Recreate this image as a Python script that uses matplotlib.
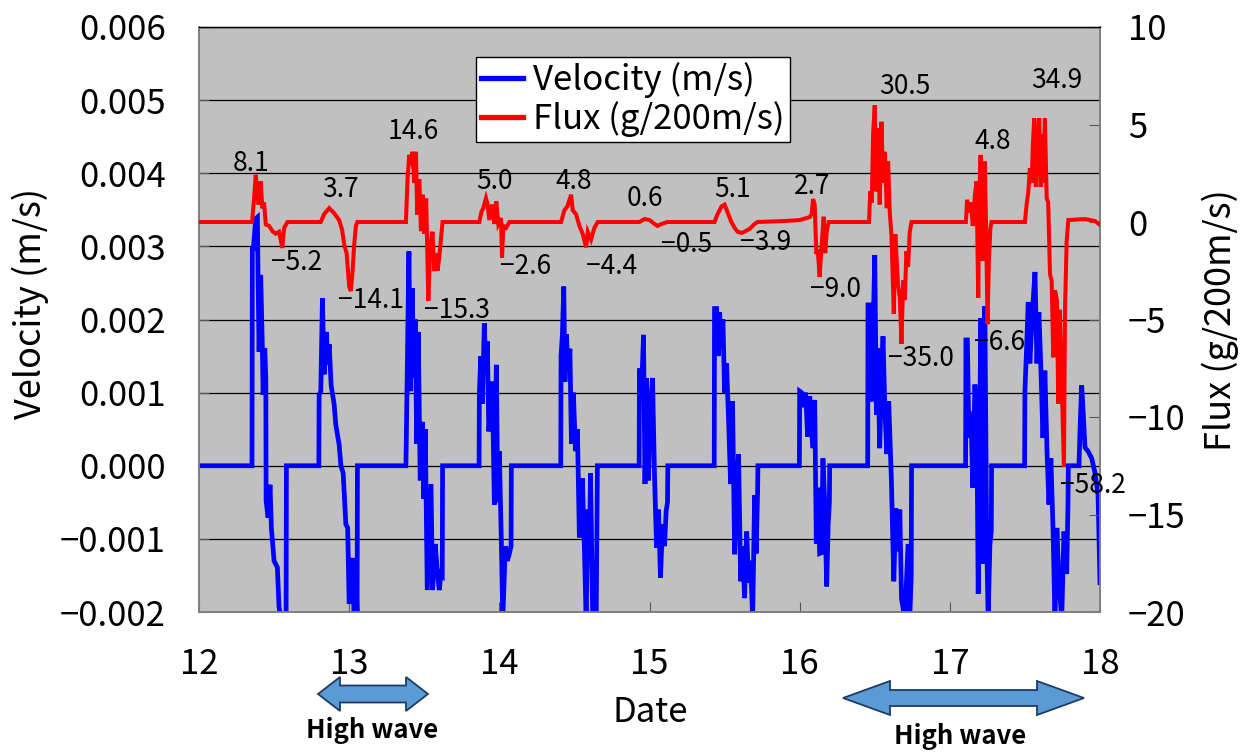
import numpy as np
import matplotlib
matplotlib.use('Agg')
import matplotlib.pyplot as plt
from matplotlib.patches import Polygon
from matplotlib.lines import Line2D

plt.rcParams['font.family'] = ['Noto Sans CJK JP', 'DejaVu Sans']
plt.rcParams['axes.unicode_minus'] = True

# ---------------- data ----------------
# velocity samples: (day, velocity in mm/s); values below -2 mm/s are clipped by the axis
velocity_samples = [
    (12.000, 0.0),
    (12.353, 0.0), (12.355, 2.97), (12.362, 2.97), (12.378, 3.38), (12.389, 3.40), (12.393, 2.61),
    (12.400, 1.56), (12.411, 2.61), (12.422, 1.61), (12.427, 0.97), (12.438, 1.61), (12.445, 1.20),
    (12.447, -0.48), (12.460, -0.71), (12.473, -0.26), (12.482, -0.85), (12.500, -1.30), (12.522, -1.39),
    (12.533, -1.94), (12.549, -2.10), (12.567, -2.10), (12.580, -2.10), (12.582, 0.0),
    (12.798, 0.0), (12.800, 0.97), (12.811, 1.02), (12.822, 2.29), (12.833, 1.25), (12.849, 1.83),
    (12.855, 1.38), (12.867, 1.66), (12.880, 1.10), (12.900, 0.84), (12.911, 0.56), (12.933, 0.29),
    (12.945, 0.00), (12.960, -0.10), (12.978, -0.80), (12.990, -0.85), (13.000, -1.89), (13.022, -1.26),
    (13.033, -2.10), (13.047, -1.60), (13.053, -2.10), (13.055, 0.0),
    (13.378, 0.0), (13.398, 2.93), (13.407, 1.02), (13.420, 2.43), (13.430, 1.20), (13.440, 2.00),
    (13.450, 0.30), (13.460, 1.83), (13.473, -0.20), (13.487, 0.60), (13.497, -0.45), (13.507, 0.50),
    (13.520, -1.70), (13.545, -0.25), (13.555, -1.70), (13.573, -1.07), (13.589, -1.50), (13.600, -1.70),
    (13.611, -1.48), (13.620, -1.50), (13.622, 0.0),
    (13.865, 0.0), (13.867, 1.00), (13.877, 1.50), (13.887, 0.85), (13.900, 1.95), (13.910, 1.30),
    (13.920, 1.70), (13.930, 0.47), (13.953, 1.15), (13.967, -0.53), (13.980, 1.38), (13.990, -0.50),
    (14.000, 0.20), (14.013, -1.00), (14.023, -2.10), (14.040, -1.10), (14.053, -1.30), (14.067, -1.20),
    (14.078, -1.10), (14.080, 0.0),
    (14.409, 0.0), (14.411, 1.50), (14.420, 1.80), (14.429, 2.45), (14.437, 1.15), (14.447, 1.80),
    (14.457, 1.30), (14.470, 1.60), (14.480, 0.30), (14.493, 1.00), (14.507, 0.20), (14.520, 0.50),
    (14.533, -0.98), (14.553, -0.17), (14.567, -1.17), (14.578, -2.10), (14.590, -0.60), (14.600, -1.20),
    (14.607, -0.10), (14.622, -2.10), (14.645, -2.10), (14.653, 0.0),
    (14.931, 0.0), (14.933, 1.33), (14.947, 1.00), (14.960, 1.79), (14.970, -0.25), (14.980, 1.20),
    (14.993, -0.20), (15.007, 0.80), (15.020, 1.20), (15.033, -0.10), (15.047, -1.12), (15.060, -0.60),
    (15.073, -1.53), (15.087, -0.80), (15.100, -1.10), (15.111, -0.62), (15.120, -0.50), (15.122, 0.0),
    (15.431, 0.0), (15.433, 2.15), (15.447, 2.15), (15.457, 1.50), (15.467, 2.10), (15.478, 1.60),
    (15.489, 2.00), (15.500, 1.00), (15.513, 1.40), (15.527, 0.60), (15.540, -0.25), (15.553, 0.88),
    (15.567, -1.21), (15.580, -0.30), (15.593, 0.16), (15.607, -1.58), (15.620, -1.10), (15.633, -1.81),
    (15.647, -0.90), (15.660, -1.60), (15.673, -1.30), (15.687, -2.10), (15.700, -0.40), (15.710, -1.20),
    (15.720, -0.35), (15.722, 0.0),
    (15.998, 0.0), (16.000, 1.02), (16.013, 1.00), (16.027, 0.80), (16.040, 1.00), (16.053, 0.40),
    (16.067, 0.95), (16.087, 0.24), (16.100, 0.90), (16.111, -1.07), (16.123, -0.30), (16.133, -1.20),
    (16.145, -1.19), (16.155, 0.10), (16.167, -0.50), (16.180, -1.65), (16.190, -0.80), (16.198, -0.50),
    (16.200, 0.0),
    (16.453, 0.0), (16.455, 2.20), (16.467, 2.20), (16.477, 0.88), (16.487, 1.60), (16.500, 2.88),
    (16.511, 0.70), (16.520, 1.61), (16.533, 0.24), (16.545, 1.20), (16.555, 1.77), (16.567, 0.80),
    (16.580, 0.16), (16.593, 0.88), (16.611, -0.21), (16.627, -1.58), (16.640, -0.58), (16.655, -1.17),
    (16.667, -0.60), (16.678, -1.81), (16.700, -2.10), (16.722, -1.07), (16.733, -2.10), (16.743, -1.50),
    (16.745, 0.0),
    (17.105, 0.0), (17.107, 1.72), (17.117, 1.72), (17.127, 0.38), (17.140, 0.74), (17.153, -0.30),
    (17.167, 1.11), (17.180, 0.50), (17.189, -1.75), (17.200, 0.80), (17.207, 2.02), (17.218, -1.34),
    (17.227, 0.50), (17.233, 2.18), (17.245, -0.90), (17.255, -2.10), (17.267, -1.07), (17.276, -0.90),
    (17.278, 0.0),
    (17.498, 0.0), (17.500, 1.02), (17.511, 1.60), (17.522, 2.24), (17.533, 1.40), (17.547, 2.00),
    (17.567, 2.65), (17.580, 1.40), (17.593, 2.10), (17.607, 1.29), (17.620, 0.38), (17.633, 1.30),
    (17.647, 0.20), (17.660, -0.53), (17.673, 0.10), (17.687, -0.85), (17.700, -2.10), (17.713, -0.85),
    (17.727, -1.60), (17.745, -2.10), (17.760, -0.90), (17.778, -1.48), (17.787, -0.50), (17.789, 0.0),
    (17.860, 0.0), (17.867, 0.50), (17.878, 1.10), (17.889, 0.70), (17.900, 0.25), (17.920, 0.20),
    (17.945, 0.10), (17.967, -0.10), (17.987, -0.40), (18.000, -1.60),
]

# flux samples: (day, flux on right axis scale)
flux_samples = [
    (12.000, 0.0),
    (12.353, 0.0), (12.367, 1.2), (12.378, 2.42), (12.387, 1.6), (12.397, 0.89), (12.411, 2.08),
    (12.422, 0.7), (12.433, 1.0), (12.445, -0.13), (12.467, -0.2), (12.489, -0.47), (12.511, -0.6),
    (12.533, -0.5), (12.555, -1.33), (12.567, -0.3), (12.589, 0.0),
    (12.811, 0.0), (12.833, 0.4), (12.867, 0.71), (12.900, 0.45), (12.933, 0.1), (12.953, -0.4),
    (12.967, -1.15), (12.983, -1.6), (13.000, -3.3), (13.011, -3.54), (13.022, -2.6), (13.033, -1.2),
    (13.045, -0.2), (13.055, 0.0),
    (13.378, 0.0), (13.389, 2.24), (13.400, 3.44), (13.411, 3.2), (13.422, 3.6), (13.433, 2.0),
    (13.445, 3.6), (13.453, 0.38), (13.467, 2.2), (13.478, -0.47), (13.489, 1.4), (13.500, -0.6),
    (13.513, 1.2), (13.527, -4.05), (13.540, -1.2), (13.555, -0.5), (13.567, -2.52), (13.578, -1.6),
    (13.589, -2.5), (13.600, -1.8), (13.622, 0.0),
    (13.867, 0.0), (13.880, 0.5), (13.893, 0.71), (13.911, 1.22), (13.922, 0.9), (13.933, 0.1),
    (13.953, 0.9), (13.967, -0.1), (13.980, 1.06), (13.993, -0.1), (14.011, 0.2), (14.018, -1.84),
    (14.027, -0.2), (14.045, -0.3), (14.067, 0.0),
    (14.411, 0.0), (14.433, 0.6), (14.453, 0.8), (14.478, 1.4), (14.489, 0.6), (14.511, 0.4),
    (14.533, -0.2), (14.555, -0.6), (14.578, -1.3), (14.589, -0.5), (14.611, -0.9), (14.633, -0.3),
    (14.655, 0.0),
    (14.933, 0.0), (14.967, 0.15), (15.000, 0.1), (15.033, -0.1), (15.053, -0.2), (15.080, -0.1),
    (15.120, 0.0),
    (15.433, 0.0), (15.453, 0.4), (15.480, 0.8), (15.500, 0.89), (15.520, 0.5), (15.545, 0.0),
    (15.567, -0.3), (15.587, -0.5), (15.611, -0.56), (15.633, -0.5), (15.667, -0.35), (15.700, -0.1),
    (15.720, 0.0),
    (15.900, 0.05), (16.000, 0.1), (16.067, 0.25),
    (16.080, 0.4), (16.089, 1.18), (16.100, 0.9), (16.111, -1.64), (16.120, -1.4), (16.133, -2.82),
    (16.145, -1.3), (16.160, 0.27), (16.170, -1.6), (16.180, -0.5), (16.193, 0.0),
    (16.462, 0.0), (16.470, 1.57), (16.480, 1.0), (16.489, 4.5), (16.500, 5.99), (16.511, 1.57),
    (16.522, 4.8), (16.533, 0.9), (16.545, 5.14), (16.555, 2.0), (16.567, 3.6), (16.580, 0.71),
    (16.589, 3.1), (16.600, 0.5), (16.611, -0.64), (16.627, -4.72), (16.637, -0.64), (16.655, -3.19),
    (16.667, -3.9), (16.678, -6.25), (16.689, -3.0), (16.700, -4.0), (16.711, -1.5), (16.722, -2.3),
    (16.733, -0.5), (16.745, 0.0),
    (17.107, 0.0), (17.115, 1.14), (17.127, 0.5), (17.140, 1.0), (17.153, -0.2), (17.167, 1.4),
    (17.178, 2.08), (17.189, -3.88), (17.197, 1.5), (17.205, 3.44), (17.213, 0.5), (17.218, -2.0),
    (17.227, 0.0), (17.233, 3.1), (17.243, -1.0), (17.251, -5.24), (17.260, -2.0), (17.270, -0.3),
    (17.278, 0.0),
    (17.500, 0.0), (17.511, 0.89), (17.522, 1.5), (17.533, 2.76), (17.545, 2.0), (17.553, 4.0),
    (17.562, 5.31), (17.573, 1.8), (17.583, 4.5), (17.595, 5.31), (17.605, 1.8), (17.613, 4.5),
    (17.622, 2.0), (17.633, 5.31), (17.645, 1.22), (17.655, 1.0), (17.667, -2.68), (17.678, -3.0),
    (17.689, -6.94), (17.700, -3.5), (17.713, -4.0), (17.722, -9.32), (17.733, -4.5), (17.745, -8.3),
    (17.760, -12.55), (17.767, -4.5), (17.778, -0.98), (17.789, 0.1), (17.833, 0.12), (17.900, 0.15),
    (17.967, 0.05), (18.000, -0.15),
]

peak_labels = ["8.1", "3.7", "14.6", "5.0", "4.8", "0.6", "5.1", "2.7", "30.5", "4.8", "34.9"]
peak_label_day = [12.345, 12.945, 13.427, 13.967, 14.493, 14.967, 15.55, 16.087, 16.70, 17.283, 17.711]
peak_label_flux = [3.0, 1.65, 4.63, 2.1, 2.08, 1.22, 1.65, 1.81, 6.97, 4.12, 7.24]

trough_labels = ["\u22125.2", "\u221214.1", "\u221215.3", "\u22122.6", "\u22124.4", "\u22120.5",
                 "\u22123.9", "\u22129.0", "\u221235.0", "\u22126.6", "\u221258.2"]
trough_label_day = [12.647, 13.147, 13.72, 14.173, 14.75, 15.25, 15.773, 16.24, 16.81, 17.333, 17.953]
trough_label_flux = [-2.1, -4.05, -4.56, -2.26, -2.26, -1.15, -1.07, -3.46, -7.0, -6.17, -13.5]

x_ticks = [12, 13, 14, 15, 16, 17, 18]
vel_ticks = [-0.002, -0.001, 0.000, 0.001, 0.002, 0.003, 0.004, 0.005, 0.006]
flux_ticks = [-20, -15, -10, -5, 0, 5, 10]

# ---------------- figure ----------------
W, H = 1240, 752
fig = plt.figure(figsize=(W / 100, H / 100), dpi=100)
ax = fig.add_axes([199 / W, 1 - 612 / H, 901 / W, 585 / H])
ax.set_facecolor('#c0c0c0')
ax2 = ax.twinx()

vd = np.array([p[0] for p in velocity_samples])
vv = np.array([p[1] for p in velocity_samples]) * 1e-3
fd = np.array([p[0] for p in flux_samples])
fv = np.array([p[1] for p in flux_samples])

ax.plot(vd, vv, color='#0000ff', lw=3.4, solid_joinstyle='miter', zorder=3)
ax2.plot(fd, fv, color='#ff0000', lw=2.9, solid_joinstyle='miter', zorder=3)

ax.set_xlim(12, 18)
ax.set_ylim(-0.002, 0.006)
ax2.set_ylim(-20, 10)

ax.set_axisbelow(True)
ax.yaxis.grid(True, color='black', lw=0.9)
ax.set_xticks(x_ticks)
ax.set_xticklabels([str(t) for t in x_ticks])
ax.set_yticks(vel_ticks)
ax.set_yticklabels([f"{v:.3f}".replace('-', '\u2212') for v in vel_ticks])
ax2.set_yticks(flux_ticks)
ax2.set_yticklabels([str(v).replace('-', '\u2212') for v in flux_ticks])

ax.tick_params(axis='x', direction='in', length=7, pad=25, labelsize=25, color='#555555')
ax.tick_params(axis='y', direction='in', length=7, pad=24, labelsize=25, color='#555555')
ax2.tick_params(axis='y', direction='in', length=8, pad=20, labelsize=25, color='#555555')

for a in (ax, ax2):
    for s in ('left', 'right', 'bottom'):
        a.spines[s].set_color('#808080')
        a.spines[s].set_linewidth(1.3)
    a.spines['top'].set_color('black')
    a.spines['top'].set_linewidth(0.9)

for lab, d, f in zip(peak_labels, peak_label_day, peak_label_flux):
    ax2.text(d, f, lab, ha='center', va='center', fontsize=19, zorder=5)
for lab, d, f in zip(trough_labels, trough_label_day, trough_label_flux):
    ax2.text(d, f, lab, ha='center', va='center', fontsize=19, zorder=5)

handles = [Line2D([], [], color='#0000ff', lw=3.8), Line2D([], [], color='#ff0000', lw=3.8)]
leg = ax2.legend(handles, ['Velocity (m/s)', 'Flux (g/200m/s)'], loc='upper left',
                 bbox_to_anchor=((476 - 199) / 901, (612 - 57) / 585), borderaxespad=0,
                 fontsize=25, frameon=True, fancybox=False, framealpha=1, edgecolor='black',
                 handlelength=1.2, handletextpad=0.3, labelspacing=0.08, borderpad=0.15)
leg.get_frame().set_linewidth(1.0)

fig.text(30 / W, 1 - 303 / H, 'Velocity (m/s)', rotation=90, ha='center', va='center', fontsize=26)
fig.text(1220 / W, 1 - 320 / H, 'Flux (g/200m/s)', rotation=90, ha='center', va='center', fontsize=26)
fig.text(650 / W, 1 - 713 / H, 'Date', ha='center', va='center', fontsize=25)


def double_arrow(x0, x1, yc, body_h, head_h, head_len):
    pts = [(x0, yc), (x0 + head_len, yc - head_h), (x0 + head_len, yc - body_h),
           (x1 - head_len, yc - body_h), (x1 - head_len, yc - head_h), (x1, yc),
           (x1 - head_len, yc + head_h), (x1 - head_len, yc + body_h),
           (x0 + head_len, yc + body_h), (x0 + head_len, yc + head_h)]
    pts = [(x / W, 1 - y / H) for x, y in pts]
    return Polygon(pts, closed=True, transform=fig.transFigure, facecolor='#5b9bd5',
                   edgecolor='#1f3b63', lw=1.3, joinstyle='miter')


fig.patches.append(double_arrow(318, 428, 694, 8.5, 17, 22))
fig.patches.append(double_arrow(843, 1084, 698, 8, 17, 47))
fig.text(372 / W, 1 - 731 / H, 'High wave', ha='center', va='center', fontsize=18.5, fontweight='bold')
fig.text(960 / W, 1 - 737 / H, 'High wave', ha='center', va='center', fontsize=18.5, fontweight='bold')

fig.savefig('out.png', dpi=100)
